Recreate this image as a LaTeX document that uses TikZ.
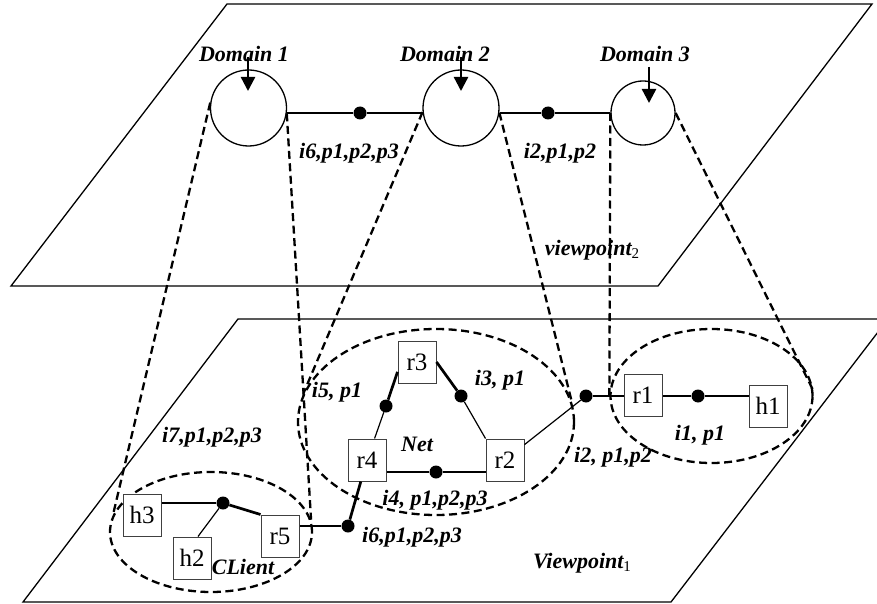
\documentclass[tikz,border=0pt]{standalone}
\usepackage{fontspec}
\setmainfont{Liberation Serif}
\usetikzlibrary{shapes.geometric,arrows.meta,calc}
\begin{document}
\begin{tikzpicture}[x=1pt,y=-1pt,
  plane/.style={line width=1.3pt},
  proj/.style={line width=2.3pt,dash pattern=on 8pt off 4.5pt},
  region/.style={ellipse,draw,line width=2.3pt,dash pattern=on 8pt off 4.5pt,inner sep=0pt},
  dom/.style={circle,draw,line width=1.3pt,minimum size=76pt,inner sep=0pt},
  box/.style={draw=black!75,line width=1pt,fill=white,minimum width=38pt,minimum height=42pt,inner sep=0pt,font=\fontsize{25}{25}\selectfont},
  dot/.style={circle,fill=black,inner sep=0pt,minimum size=13pt},
  thin/.style={line width=1.2pt},
  thick/.style={line width=2.7pt},
  lab/.style={inner sep=0pt,font=\fontsize{22}{24}\selectfont\bfseries\itshape},
  arr/.style={line width=2.4pt,-{Triangle[length=14pt,width=14pt]}}]
\useasboundingbox (0,0) rectangle (877,604);
\clip (0,0) rectangle (877,604);
% planes
\draw[plane] (227,4) -- (872,4) -- (658,286) -- (11,286) -- cycle;
\draw[plane] (238,319) -- (888,319) -- (671,602) -- (23,602) -- cycle;
% domain circles
\node[dom] (d1) at (248.5,108) {};
\node[dom] (d2) at (461,108) {};
\node[dom,minimum size=64pt] (d3) at (643,113) {};
\node[lab] (l1) at (244,54) {Domain 1};
\node[lab] (l2) at (445,54) {Domain 2};
\node[lab] (l3) at (645,54) {Domain 3};
\coordinate (a1s) at (248,57); \coordinate (a1e) at (248,91);
\coordinate (a2s) at (461,57); \coordinate (a2e) at (461,91);
\coordinate (a3s) at (649,67); \coordinate (a3e) at (649,103);
\draw[arr] (a1s) -- (a1e);
\draw[arr] (a2s) -- (a2e);
\draw[arr] (a3s) -- (a3e);
\node[dot] (t1) at (360,113) {};
\node[dot] (t2) at (548,113) {};
\draw[thin] (t1) -- (t1 -| d1.east);
\draw[thick] (t1) -- (t1 -| d2.west);
\draw[thin] (t2) -- (t2 -| d2.east);
\draw[thick] (t2) -- (t2 -| d3.west);
\node[lab] (lt1) at (349,153) {i6,p1,p2,p3};
\node[lab] (lt2) at (560,153) {i2,p1,p2};
\node[lab] (vp2) at (592,250) {viewpoint\raisebox{-0.35ex}{\normalfont\fontsize{15}{15}\selectfont 2}};
% region ellipses
\node[region,minimum width=202pt,minimum height=120pt] (client) at (211,532) {};
\node[region,minimum width=276pt,minimum height=186pt] (net) at (436,422) {};
\node[region,minimum width=202pt,minimum height=134pt] (edge) at (711.5,396) {};
% projection lines
\draw[proj] (d1.172) -- (client.170);
\draw[proj] (d1.-8) -- (client.7);
\draw[proj] (d2.186) -- (net.168);
\draw[proj] (d2.-7) -- (net.9);
\draw[proj] (d3.west) -- (edge.west);
\draw[proj] (d3.east) -- (edge.3);
% boxes
\node[box] (r3) at (417,362) {r3};
\node[box] (r4) at (367,460) {r4};
\node[box] (r2) at (505,460) {r2};
\node[box] (r1) at (643,395) {r1};
\node[box] (h1) at (768,406) {h1};
\node[box] (h3) at (142,515) {h3};
\node[box] (h2) at (192,558) {h2};
\node[box] (r5) at (280,536) {r5};
% dots
\node[dot] (pa) at (386,406) {};
\node[dot] (pb) at (461,396) {};
\node[dot] (pc) at (436,472) {};
\node[dot] (pd) at (586,396) {};
\node[dot] (pe) at (698,396) {};
\node[dot] (pf) at (348,526) {};
\node[dot] (pg) at (223,503) {};
% links
\draw[thick] (pa) -- ($(r3.south west)!0.27!(r3.north west)$);
\draw[thin] (pa) -- (r4);
\draw[thick] (pb) -- (r3.east);
\draw[thin] (pb) -- (r2.north west);
\draw[thin] (pc) -- (pc -| r4.east);
\draw[thick] (pc) -- (pc -| r2.west);
\draw[thin] (pd) -- (r2);
\draw[thick] (pd) -- (pd -| r1.west);
\draw[thin] (pe) -- (pe -| r1.east);
\draw[thick] (pe) -- (pe -| h1.west);
\draw[thin] (pf) -- (pf -| r5.east);
\draw[thick] (pf) -- (r4);
\draw[thin] (pg) -- (pg -| h3.east);
\draw[thick] (pg) -- (r5.north west);
\draw[thin] (pg) -- ([xshift=6pt]h2.north);
% labels
\node[lab] (li5) at (337,392) {i5, p1};
\node[lab] (li3) at (500,380) {i3, p1};
\node[lab] (lnet) at (417,444) {Net};
\node[lab] (li4) at (435,500) {i4, p1,p2,p3};
\node[lab] (li6) at (412,537) {i6,p1,p2,p3};
\node[lab] (li7) at (212,437) {i7,p1,p2,p3};
\node[lab] (lcl) at (243,567) {CLient};
\node[lab] (li2) at (613,457) {i2, p1,p2};
\node[lab] (li1) at (700,435) {i1, p1};
\node[lab] (vp1) at (582,563) {Viewpoint\raisebox{-0.35ex}{\normalfont\fontsize{15}{15}\selectfont 1}};
\end{tikzpicture}
\end{document}
